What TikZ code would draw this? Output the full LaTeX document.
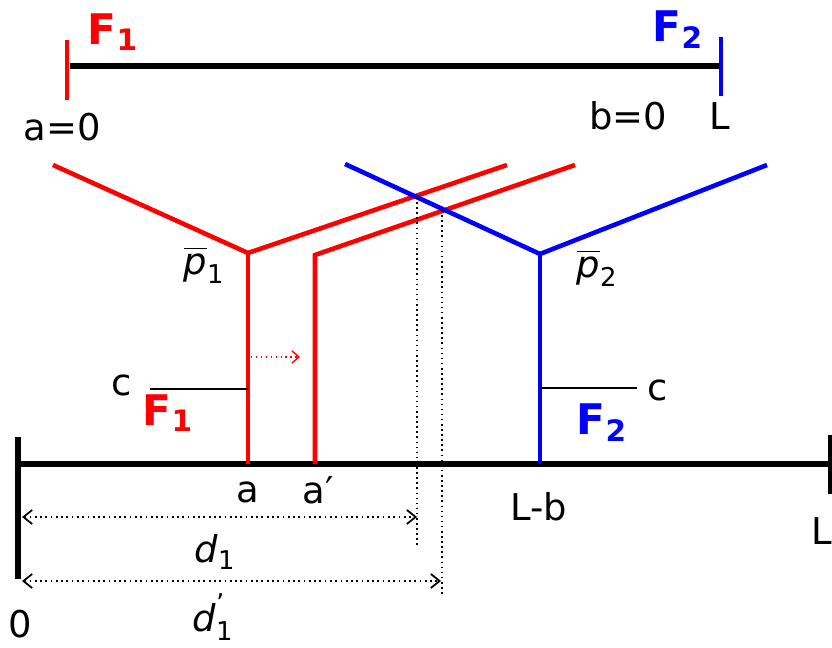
\documentclass[tikz,border=0pt]{standalone}
\usepackage{amsmath}
\usepackage{fontspec}
\setmainfont{DejaVu Sans}
\usetikzlibrary{arrows.meta}
\colorlet{firmred}{red}
\colorlet{firmblue}{blue}
\newcommand{\lbl}{\fontsize{21}{25}\selectfont}
\newcommand{\flbl}{\fontsize{24}{28}\selectfont\bfseries}
\newcommand{\pbar}[1]{$\overline{\textit{p}}_{\text{#1}}$}
\tikzset{
  axis/.style={line width=3pt},
  firm1/.style={firmred, line width=2.6pt},
  firm2/.style={firmblue, line width=2.6pt},
  cost/.style={line width=0.8pt},
  guide/.style={dotted, line width=0.9pt},
  dist/.style={dotted, line width=1pt, {Straight Barb[length=5pt,width=8pt]}-{Straight Barb[length=5pt,width=8pt]}},
  every node/.style={font=\lbl, inner sep=0pt}
}

\begin{document}
\begin{tikzpicture}[x=0.02cm,y=-0.02cm]
      \useasboundingbox (0,0) rectangle (832,648);

      % top: the market before entry
      \coordinate (tl) at (70,66);
      \coordinate (tr) at (721,66);
      \draw [axis] (tl) -- (tr);
      \draw [firm1] (67,40) -- (67,100);
      \draw [firm2] (721,37) -- (721,96);
      \node (f1top) [firmred] at (113,32) {\flbl F\textsubscript{1}};
      \node (f2top) [firmblue] at (678,30) {\flbl F\textsubscript{2}};
      \node (azero) at (62,127) {a=0};
      \node (bzero) at (628,116) {b=0};
      \node (ltop) at (720,116) {L};

      % bottom axis
      \coordinate (o) at (18,464);
      \coordinate (e) at (832,464);
      \draw [axis] (o) -- (e);
      \draw [axis] (18,437) -- (18,579);
      \draw [axis] (831,435) -- (831,494);
      \node (zero) at (20,624) {0};
      \node (lbot) at (822,531) {L};

      % firm 1 price lines
      \coordinate (p1) at (248,253);
      \coordinate (p1b) at (315,255);
      \draw [firm1] (53,165) -- (p1) -- (507,165);
      \draw [firm1] (p1) -- (248,464);
      \draw [firm1] (315,464) -- (p1b) -- (575,165);
      \node (p1lbl) at (204,265) {\pbar{1}};
      \node (a) at (248,492) {a};
      \node (ap) at (318,490) {a′};
      \draw [firmred, dotted, line width=0.8pt, -{Straight Barb[length=4pt,width=7pt]}] (251,357) -- (300,357);

      % firm 2 price lines
      \coordinate (p2) at (540,254);
      \draw [firm2] (345,164) -- (p2) -- (767,165);
      \draw [firm2] (p2) -- (540,464);
      \node (p2lbl) at (597,268) {\pbar{2}};
      \node (lb) at (539,507) {L-b};

      % transport cost c
      \draw [cost] (150,389) -- (248,389);
      \draw [cost] (540,388) -- (637,388);
      \node (c1) at (122,385) {c};
      \node (c2) at (658,390) {c};
      \node (f1bot) [firmred] at (168,413) {\flbl F\textsubscript{1}};
      \node (f2bot) [firmblue] at (602,423) {\flbl F\textsubscript{2}};

      % indifferent consumer
      \coordinate (x1) at (417,197);
      \coordinate (x2) at (442,210);
      \draw [guide] (x1) -- (417,548);
      \draw [guide] (x2) -- (442,596);
      \draw [dist] (22,517) -- (417,517);
      \draw [dist] (22,581) -- (441,581);
      \node (d1) at (215,552) {$\textit{d}_{\text{1}}$};
      \node (d1p) at (213,617) {$\textit{d}_{\text{1}}^{\text{'}}$};
    \end{tikzpicture}
\end{document}
